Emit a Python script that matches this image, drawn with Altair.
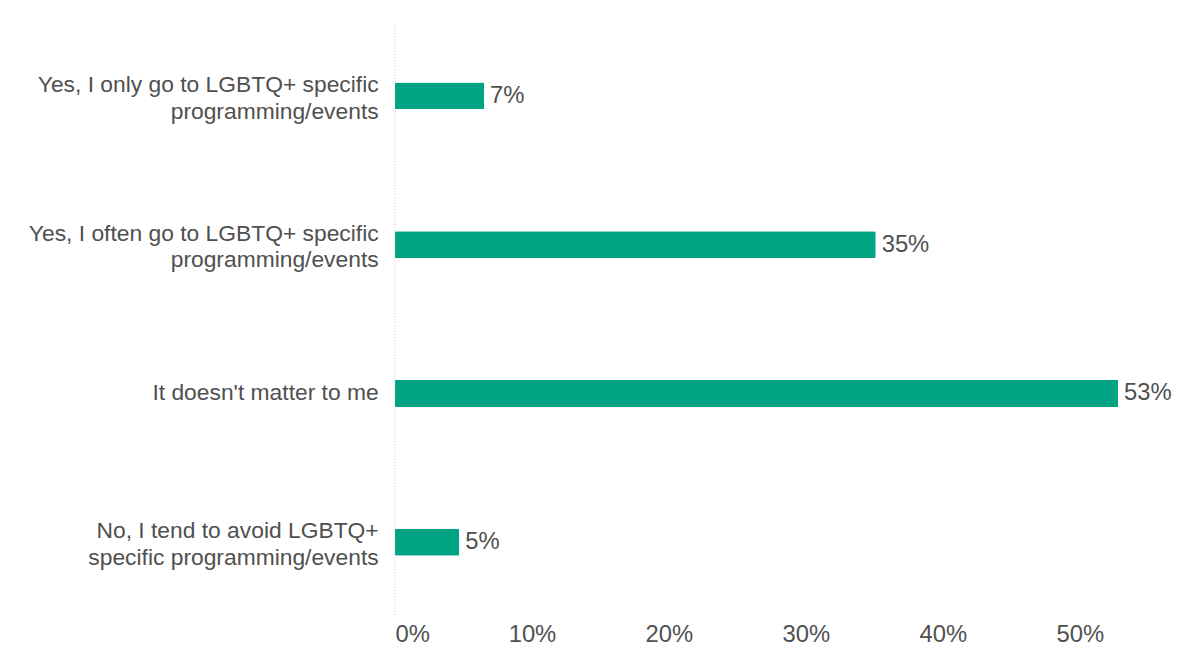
import altair as alt
import pandas as pd

categories = [
    "Yes, I only go to LGBTQ+ specific|programming/events",
    "Yes, I often go to LGBTQ+ specific|programming/events",
    "It doesn't matter to me",
    "No, I tend to avoid LGBTQ+|specific programming/events",
]
values = [6.5, 35.1, 52.8, 4.7]
labels = ["7%", "35%", "53%", "5%"]

df = pd.DataFrame({"cat": categories, "val": values, "lab": labels})

FONT = "Liberation Sans"
GREEN = "#00a382"
TEXT = "#505050"
FS = 24
YFS = 23

x = alt.X(
    "val:Q",
    scale=alt.Scale(domain=[0, 55], nice=False),
    axis=alt.Axis(
        values=[0, 10, 20, 30, 40, 50],
        labelExpr="datum.value + '%'",
        grid=False, domain=False, ticks=False,
        labelFont=FONT, labelFontSize=FS, labelColor=TEXT, labelPadding=6,
        title=None,
    ),
)
y = alt.Y(
    "cat:N",
    sort=categories,
    axis=alt.Axis(
        labelExpr="split(datum.label, '|')",
        labelOffset={"condition": {"test": "indexof(datum.value, '|') >= 0", "value": -11}, "value": 0},
        domain=False, ticks=False, grid=False,
        labelFont=FONT, labelFontSize=YFS, labelColor=TEXT, labelPadding=17,
        labelLimit=600, labelLineHeight=27,
        title=None,
    ),
)

base = alt.Chart(df)
bars = base.mark_bar(color=GREEN, size=27, cornerRadius=1).encode(x=x, y=y)
text = base.mark_text(align="left", baseline="middle", dx=6, font=FONT, fontSize=FS, color=TEXT).encode(
    x="val:Q", y=alt.Y("cat:N", sort=categories), text="lab:N"
)
zero = alt.Chart(pd.DataFrame({"z": [0]})).mark_rule(color="#cccccc", strokeDash=[1, 2], strokeWidth=1).encode(x="z:Q")

chart = (
    alt.layer(zero, bars, text)
    .properties(width=759, height=600, padding={"left": 20, "top": 10, "right": 5, "bottom": 5})
    .configure_view(stroke=None)
)

chart.save("out.html", embed_options={"renderer": "svg", "actions": False})
